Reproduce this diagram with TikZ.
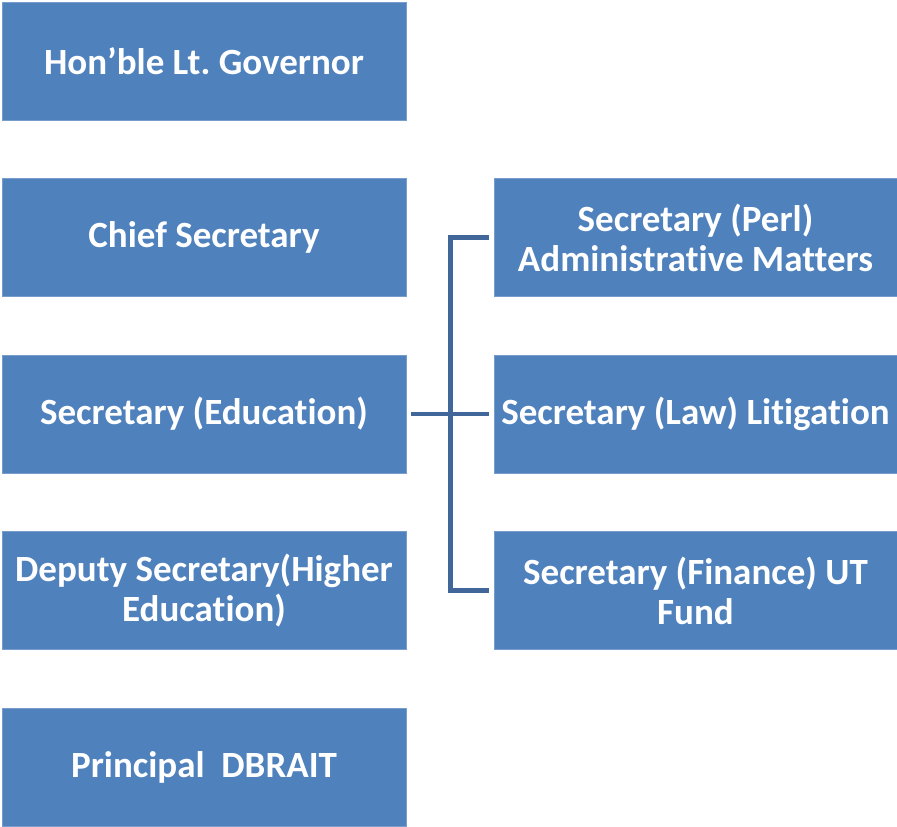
\documentclass[tikz,border=0pt]{standalone}
\usepackage{fontspec}
\setmainfont{Carlito}[Ligatures=NoCommon]
\frenchspacing
\definecolor{boxblue}{RGB}{79,129,189}
\definecolor{boxedge}{RGB}{120,156,204}
\definecolor{linkblue}{RGB}{65,103,154}
\begin{document}
\begin{tikzpicture}[x=1pt, y=-1pt,
    orgbox/.style={rectangle, fill=boxblue, draw=boxedge, line width=0.6pt,
        minimum width=404pt, minimum height=118pt, inner sep=2pt,
        text=white, align=center, font=\fontsize{37}{40}\selectfont\bfseries},
    link/.style={draw=linkblue, line width=4.5pt, line join=miter}]
    \useasboundingbox (0,0) rectangle (897,827);

    % left column
    \node[orgbox] (gov) at (204,61) {Hon’ble Lt. Governor};
    \node[orgbox] (cs) at (204,237.5) {Chief Secretary};
    \node[orgbox] (edu) at (204,414) {Secretary (Education)};
    \node[orgbox] (dep) at (204,590.5) {Deputy Secretary(Higher\\Education)};
    \node[orgbox] (prin) at (204,767.5) {Principal~~DBRAIT};

    % right column
    \node[orgbox, minimum width=403pt] (perl) at (695.5,237.5) {Secretary (Perl)\\Administrative Matters};
    \node[orgbox, minimum width=403pt] (law) at (695.5,414) {Secretary (Law) Litigation};
    \node[orgbox, minimum width=403pt] (fin) at (695.5,590.5) {Secretary (Finance) UT\\Fund};

    % connectors
    \coordinate (jn) at (450.5,414);
    \draw[link, shorten <=5pt] (edu.east) -- (jn);
    \draw[link, shorten >=5pt] (jn) -- (law.west);
    \draw[link, shorten <=5pt, shorten >=5pt] (perl.west) -- (jn |- perl.west) -- (jn |- fin.west) -- (fin.west);
\end{tikzpicture}
\end{document}
